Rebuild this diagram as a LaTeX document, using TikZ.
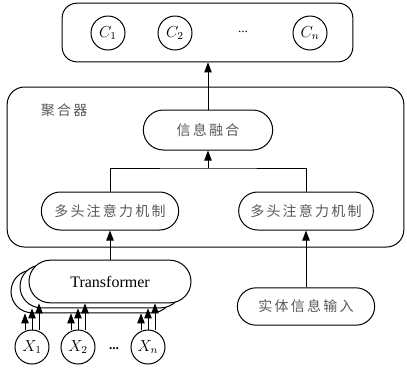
\documentclass[tikz,border=0pt]{standalone}
\usepackage{fontspec}
\setmainfont{Liberation Serif}
\newfontfamily\cjk{Noto Sans CJK SC}[LetterSpace=16]
\usetikzlibrary{arrows.meta,shapes.misc}

\tikzset{
  arr/.style={-{Triangle[length=7.5pt,width=5.5pt]}},
  pill/.style={draw, rounded rectangle, fill=white, inner sep=0pt, align=center},
  cjktext/.style={font=\cjk\fontsize{10.5}{12}\selectfont, text=black!65},
  var/.style={draw, circle, minimum size=25.5pt, inner sep=0pt, font=\fontsize{12}{14}\selectfont},
}

\begin{document}
\begin{tikzpicture}[x=0.75pt, y=-0.75pt, line width=0.75pt]
\useasboundingbox (0,0) rectangle (407,369);

% output classes
\node[draw, rounded corners=11pt, minimum width=218pt, minimum height=44pt] (out) at (207.5,32.5) {};
\node[var] (c1) at (108,33) {$C_1$};
\node[var] (c2) at (175,33) {$C_2$};
\node (cdots) at (243,32) {...};
\node[var] (cn) at (310,33) {$C_n$};

% aggregator
\node[draw, rounded corners=13pt, minimum width=297.5pt, minimum height=120pt] (agg) at (205.5,167) {};
\node[cjktext, anchor=west] (agglabel) at (36,110) {聚合器};
\node[pill, cjktext, minimum width=97pt, minimum height=30pt] (fuse) at (208,130) {信息融合};
\node[pill, cjktext, minimum width=103pt, minimum height=28.5pt] (mh1) at (110,211) {多头注意力机制};
\node[pill, cjktext, minimum width=101pt, minimum height=28.5pt] (mh2) at (306,211) {多头注意力机制};
\coordinate (join) at (208,168);

% encoder stack and inputs
\node[pill, minimum width=121.5pt, minimum height=32pt] (t3) at (92,291.5) {};
\node[pill, minimum width=121.5pt, minimum height=32pt] (t2) at (101,286.5) {};
\node[pill, minimum width=121.5pt, minimum height=32pt, font=\fontsize{12}{14}\selectfont] (t1) at (110,281.5) {Transformer};
\node[pill, cjktext, minimum width=103pt, minimum height=28pt] (ent) at (306,306.5) {实体信息输入};

\node[var] (x1) at (32,347) {$X_1$};
\node[var] (x2) at (78,347) {$X_2$};
\node[font=\bfseries] (xdots) at (114,349) {...};
\node[var] (xn) at (148,347) {$X_n$};

\draw[arr] (fuse.north) -- (fuse.north |- out.south);
\draw (mh1.north) |- (join) -| (mh2.north);
\draw[arr] (join) -- (fuse.south);
\draw[arr] (t1.north) -- (mh1.south);
\draw[arr] (ent.north) -- (mh2.south);
\foreach \x in {x1,x2,xn}
  \foreach \d/\t in {-5.25/t3,0/t2,5.25/t1}
    \draw[arr] ([xshift=\d pt]\x.north) -- ([xshift=\d pt]\x.north |- \t.south);
\end{tikzpicture}
\end{document}
